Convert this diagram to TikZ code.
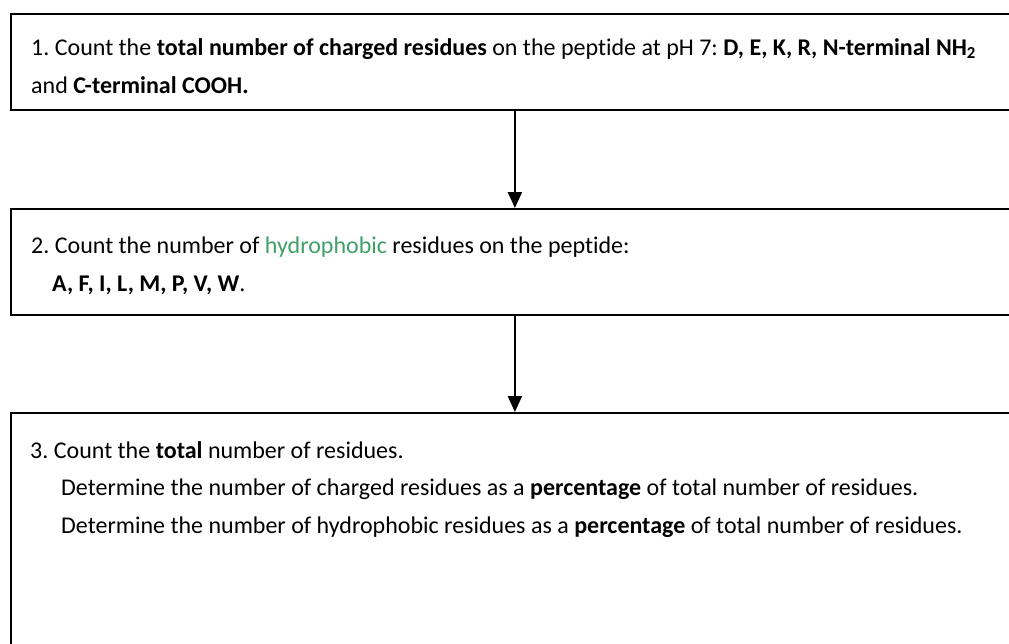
\documentclass[tikz,border=0pt]{standalone}
\usepackage{fontspec}
\setmainfont{Carlito}[Ligatures=NoCommon]
\usetikzlibrary{arrows.meta}

\definecolor{hydrogreen}{RGB}{64,160,104}

\begin{document}
\frenchspacing
\begin{tikzpicture}[x=1pt,y=-1pt,
    box/.style={draw,line width=1.8pt,anchor=north west,minimum width=1008pt,inner sep=0pt},
    txt/.style={anchor=north west,align=left,inner sep=0pt,font=\fontsize{24}{37.5}\selectfont},
    flow/.style={line width=2pt,-{Triangle[width=14pt,length=16pt]}}]
        \useasboundingbox (0,0) rectangle (1009,643);
        \clip (0,0) rectangle (1009,643);

        % Boxes
        \node[box,minimum height=96pt] (step1) at (10,13) {};
        \node[box,minimum height=106pt] (step2) at (10,208) {};
        \node[box,minimum height=300pt] (step3) at (10,412) {};

        % Texts
        \node[txt] (step1text) at ([shift={(21,25)}]step1.north west)
            {1. Count the \textbf{total number of charged residues} on the peptide at pH 7: \textbf{D, E, K, R, N-terminal NH\textsubscript{2}}\\[0.5pt]
             and \textbf{C-terminal COOH.}};
        \node[txt] (step2text) at ([shift={(21,29)}]step2.north west)
            {2. Count the number of \textcolor{hydrogreen}{hydrophobic} residues on the peptide:\\
             \hspace*{21pt}\textbf{A, F, I, L, M, P, V, W}.};
        \node[txt] (step3text) at ([shift={(20,29)}]step3.north west)
            {3. Count the \textbf{total} number of residues.\\
             \hspace*{31pt}Determine the number of charged residues as a \textbf{percentage} of total number of residues.\\
             \hspace*{31pt}Determine the number of hydrophobic residues as a \textbf{percentage} of total number of residues.};

        % Arrows
        \draw[flow] (step1) -- (step2);
        \draw[flow] (step2) -- (step3);
\end{tikzpicture}
\end{document}
